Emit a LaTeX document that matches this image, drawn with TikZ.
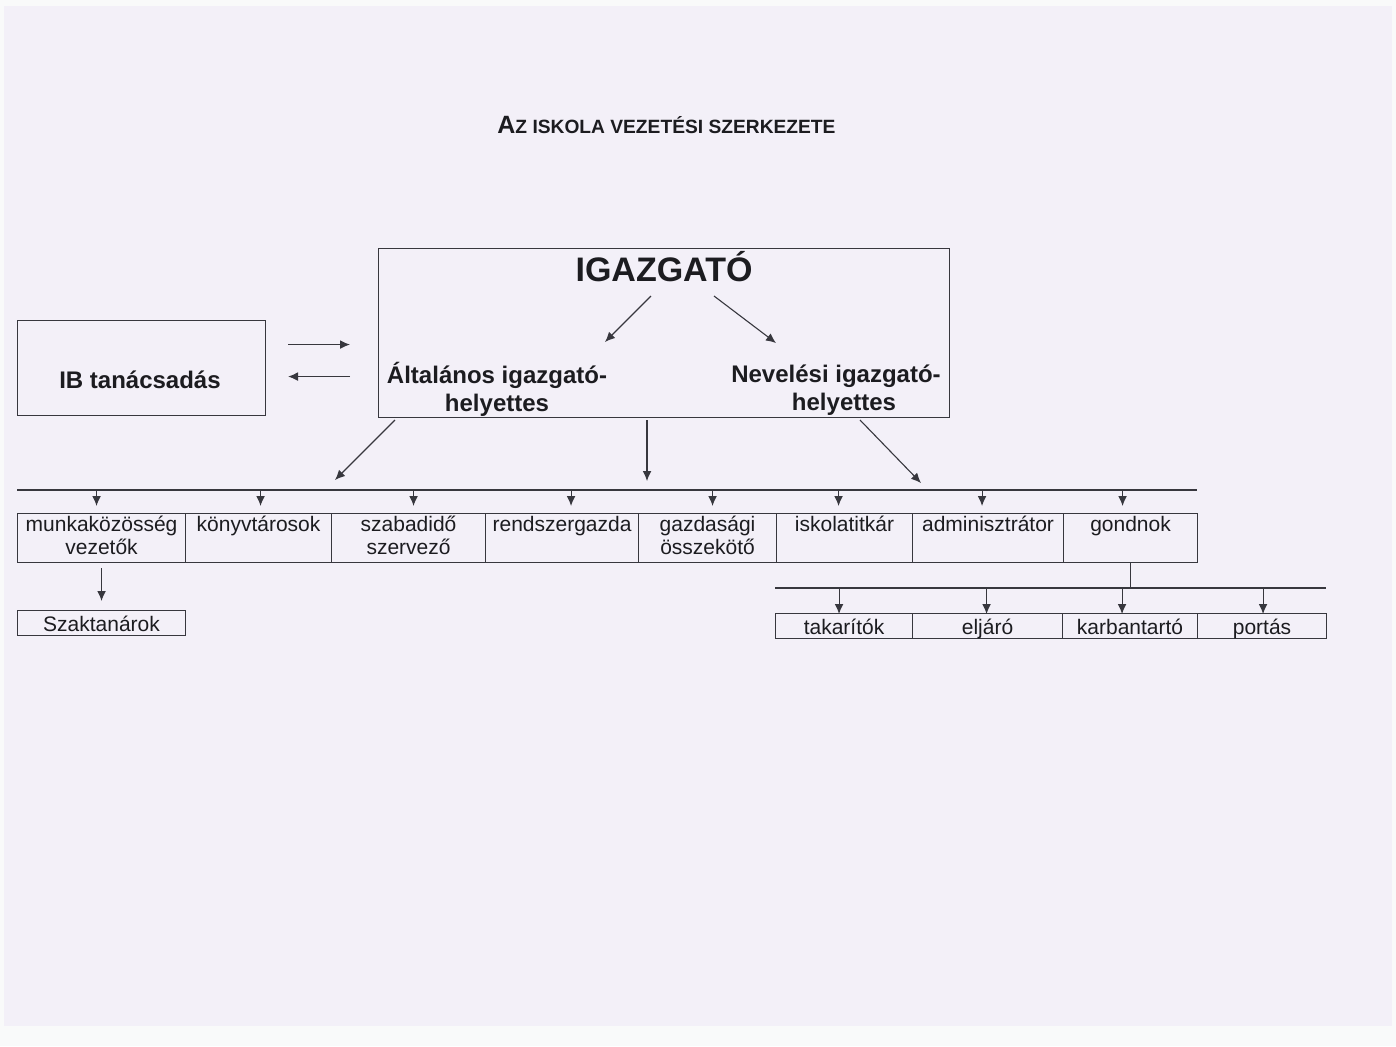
\documentclass[tikz,border=0pt]{standalone}
\usepackage{fontspec}
\setmainfont{Liberation Sans}
\usetikzlibrary{arrows.meta, positioning}

\definecolor{paper}{RGB}{243,240,248}
\definecolor{paperlow}{RGB}{249,250,250}
\definecolor{ink}{RGB}{28,28,32}
\definecolor{linec}{RGB}{55,55,62}

\tikzset{
	arr/.style={-{Latex[length=5pt,width=4.4pt]}, line width=0.55pt, draw=linec},
	bus/.style={line width=0.55pt, draw=linec},
	frame/.style={draw=linec, line width=0.55pt, inner sep=0pt, anchor=north west},
	unit/.style={frame, minimum height=24.5pt},
	unitlabel/.style={anchor=north, align=center, inner sep=1.5pt, text=ink,
		font=\fontsize{10.5}{11.5}\selectfont},
	small/.style={frame, minimum height=12.5pt, text height=9pt, text depth=1pt,
		font=\fontsize{10.5}{11.5}\selectfont, text=ink},
	head/.style={font=\bfseries\fontsize{12}{14}\selectfont, text=ink, align=center}
}

\begin{document}
\begin{tikzpicture}[x=0.5pt, y=-0.5pt]
\useasboundingbox (0,0) rectangle (1396,1046);
\fill[paperlow] (0,0) rectangle (1396,1046);
\fill[paper] (4,6) rectangle (1392,1026);

% title
\node[anchor=base west, inner sep=0pt, text=ink, font=\bfseries] (title) at (497,133)
	{\fontsize{12.5}{14}\selectfont A\fontsize{9.6}{12}\selectfont Z ISKOLA VEZETÉSI SZERKEZETE};

% leadership
\path (378,248) node[frame, minimum width=285.5pt, minimum height=84.5pt] (vezetes) {}
	  (17,320) node[frame, minimum width=124pt, minimum height=47.5pt] (ib) {};
\node[anchor=base, inner sep=0pt, text=ink, font=\bfseries\fontsize{17}{20}\selectfont] (igazgato) at (664,281) {IGAZGATÓ};
\node[head] (ibtext) at (140,380) {IB tanácsadás};
\node[head] (altalanos) at (497,389) {Általános igazgató-\\helyettes};
\node[head] (neveles) at (836,390) {Nevelési igazgató-\\\hspace*{8pt}helyettes};

\coordinate (igl) at (651,296);
\coordinate (igr) at (714,296);
\coordinate (altin) at (605,342);
\coordinate (nevin) at (776,343);
\draw[arr] (igl) -- (altin);
\draw[arr] (igr) -- (nevin);

\draw[arr, shorten <=11pt, shorten >=14pt] ([yshift=11.75pt]ib.east) -- ([yshift=11.75pt]ib.east -| vezetes.west);
\draw[arr, shorten <=14pt, shorten >=11pt] ([yshift=-4.25pt]ib.east -| vezetes.west) -- ([yshift=-4.25pt]ib.east);

% staff row
\coordinate (busl) at (17,490);
\coordinate (busr) at (1197,490);
\draw[bus] (busl) -- (busr);

\coordinate (outl) at (395,420);
\coordinate (outm) at (647,420);
\coordinate (outr) at (860,420);
\coordinate (inl) at (335,480);
\coordinate (inm) at (647,481);
\coordinate (inr) at (921,483);
\draw[arr] (outl) -- (inl);
\draw[arr] (outm) -- (inm);
\draw[arr] (outr) -- (inr);

\path (17,513) node[unit, minimum width=84pt, label={[unitlabel]90:munkaközösség\\vezetők}] (munka) {}
	  (185,513) node[unit, minimum width=73pt, label={[unitlabel]90:könyvtárosok}] (konyv) {}
	  (331,513) node[unit, minimum width=77pt, label={[unitlabel]90:szabadidő\\szervező}] (szabad) {}
	  (485,513) node[unit, minimum width=76.5pt, label={[unitlabel]90:rendszergazda}] (rendszer) {}
	  (638,513) node[unit, minimum width=69pt, label={[unitlabel]90:gazdasági\\összekötő}] (gazdasagi) {}
	  (776,513) node[unit, minimum width=68pt, label={[unitlabel]90:iskolatitkár}] (titkar) {}
	  (912,513) node[unit, minimum width=75.5pt, label={[unitlabel]90:adminisztrátor}] (admin) {}
	  (1063,513) node[unit, minimum width=67pt, label={[unitlabel]90:gondnok}] (gondnok) {};

\foreach \n/\d in {munka/-5, konyv/2, szabad/5, rendszer/9, gazdasagi/5, titkar/-6, admin/-6, gondnok/-8}
	\draw[arr, shorten >=3.5pt] ([xshift=\d*0.5pt]\n.north |- busl) -- ([xshift=\d*0.5pt]\n.north);

% teachers
\path (17,610) node[small, minimum width=84pt] (szakt) {Szaktanárok};
\draw[arr, shorten <=2.5pt, shorten >=4.5pt] (munka.south) -- (szakt.north);

% caretaker's staff
\path (775,613) node[small, minimum width=68.5pt] (takarito) {takarítók}
	  (912,613) node[small, minimum width=75pt] (eljaro) {eljáró}
	  (1062,613) node[small, minimum width=67.5pt] (karban) {karbantartó}
	  (1197,613) node[small, minimum width=64.5pt] (portas) {portás};

\coordinate (bus2l) at (775,588);
\coordinate (bus2r) at (1326,588);
\draw[bus] (bus2l) -- (bus2r);
\draw[bus] (gondnok.south) -- (gondnok.south |- bus2l);
\foreach \n/\d in {takarito/-5, eljaro/-1, karban/-8, portas/1}
	\draw[arr] ([xshift=\d*0.5pt]\n.north |- bus2l) -- ([xshift=\d*0.5pt, yshift=-0.5pt]\n.north);
\end{tikzpicture}
\end{document}
